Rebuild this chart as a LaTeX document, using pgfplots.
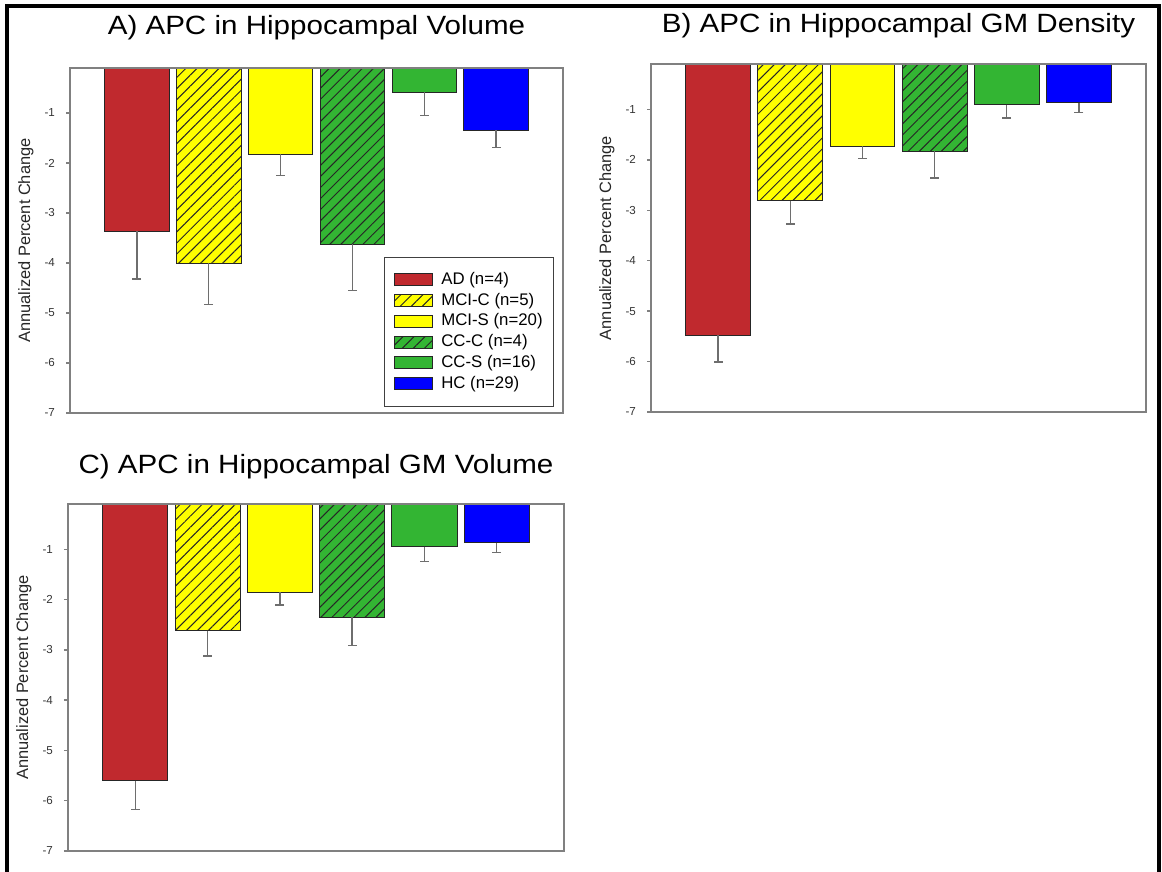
\documentclass[border=0pt]{standalone}
\usepackage{fontspec}
\setmainfont{Liberation Sans}
\newfontfamily\titlefont[FakeStretch=1.12]{Liberation Sans}
\usepackage{pgfplots}
\pgfplotsset{compat=1.18}
\usetikzlibrary{patterns.meta}

\definecolor{cAD}{RGB}{192,41,46}
\definecolor{cYel}{RGB}{255,255,0}
\definecolor{cGrn}{RGB}{51,181,51}
\definecolor{cHC}{RGB}{0,0,255}
\definecolor{axgray}{RGB}{128,128,128}
\definecolor{errgray}{RGB}{110,110,110}

\pgfplotsset{
  apc/.style={
    scale only axis, axis on top,
    xmin=0.07, xmax=6.93, ymin=-7, ymax=-0.1,
    xtick=\empty, ytick={-7,-6,...,-1}, ytick pos=left,
    tick align=outside, major tick length=2pt,
    axis line style={draw=axgray, line width=0.75pt},
    tick style={draw=axgray, line width=0.75pt},
    /pgf/number format/assume math mode=true,
    yticklabel style={font=\fontsize{5.8}{6}\selectfont, text=black!80, xshift=-2pt},
    ylabel={Annualized Percent Change},
    ylabel style={at={(axis description cs:0,0.5)}, anchor=center, yshift=22pt,
      font=\fontsize{8.2}{9}\selectfont, text=black!85},
    title style={font=\titlefont\fontsize{13.2}{15}\selectfont, anchor=base,
      at={(0.5,1)}, inner sep=0pt},
  },
  apcbar/.style={
    ybar, bar width=0.9, bar shift=0pt, draw=black!85, line width=0.45pt,
    legend image code/.code={\draw[##1,/tikz/.cd,line width=0.45pt] (0pt,-3pt) rectangle (19pt,3pt);},
    error bars/y dir=minus, error bars/y explicit,
    error bars/error bar style={draw=errgray, line width=0.7pt},
    error bars/error mark options={draw=errgray, line width=0.7pt, mark size=2.2pt, rotate=90},
  },
  hatch/.style={postaction={pattern={Lines[angle=45,distance=3.9pt,line width=0.5pt]}, pattern color=black!85}},
}

\begin{document}
\begin{tikzpicture}
\useasboundingbox (0,0) rectangle (581pt,436pt);
\draw[line width=2pt] (3.5pt,0) -- (3.5pt,433.2pt) -- (579.5pt,433.2pt) -- (579.5pt,0);

% A) volume
\begin{axis}[apc, at={(35pt,229.5pt)}, anchor=south west, width=246.5pt, height=172.5pt,
    title={A) APC in Hippocampal Volume}, title style={yshift=10.7pt},
    legend style={at={(0.982,0.453)}, anchor=north east, draw=black!75, line width=0.5pt,
      font=\fontsize{8.4}{9}\selectfont, inner xsep=4.5pt, inner ysep=6.5pt,
      row sep=0.8pt, column sep=3.3pt, nodes={inner sep=1pt}},
    legend cell align=left]
  \addplot[fill=cAD, apcbar] coordinates {(1,-3.36) +- (0,0.96)};
  \addlegendentry{AD (n=4)}
  \addplot[fill=cYel, hatch, apcbar] coordinates {(2,-4.01) +- (0,0.82)};
  \addlegendentry{MCI-C (n=5)}
  \addplot[fill=cYel, apcbar] coordinates {(3,-1.83) +- (0,0.42)};
  \addlegendentry{MCI-S (n=20)}
  \addplot[fill=cGrn, hatch, apcbar] coordinates {(4,-3.62) +- (0,0.93)};
  \addlegendentry{CC-C (n=4)}
  \addplot[fill=cGrn, apcbar] coordinates {(5,-0.59) +- (0,0.46)};
  \addlegendentry{CC-S (n=16)}
  \addplot[fill=cHC, apcbar] coordinates {(6,-1.35) +- (0,0.34)};
  \addlegendentry{HC (n=29)}
\end{axis}

% B) GM density
\begin{axis}[apc, at={(325.5pt,230pt)}, anchor=south west, width=247.5pt, height=174pt,
    title={B) APC in Hippocampal GM Density}, title style={yshift=9.7pt}]
  \addplot[fill=cAD, apcbar] coordinates {(1,-5.48) +- (0,0.53)};
  \addplot[fill=cYel, hatch, apcbar] coordinates {(2,-2.81) +- (0,0.46)};
  \addplot[fill=cYel, apcbar] coordinates {(3,-1.73) +- (0,0.24)};
  \addplot[fill=cGrn, hatch, apcbar] coordinates {(4,-1.83) +- (0,0.53)};
  \addplot[fill=cGrn, apcbar] coordinates {(5,-0.91) +- (0,0.26)};
  \addplot[fill=cHC, apcbar] coordinates {(6,-0.87) +- (0,0.19)};
\end{axis}

% C) GM volume
\begin{axis}[apc, at={(34pt,10.5pt)}, anchor=south west, width=248pt, height=173.5pt,
    title={C) APC in Hippocampal GM Volume}, title style={yshift=9.5pt}]
  \addplot[fill=cAD, apcbar] coordinates {(1,-5.60) +- (0,0.58)};
  \addplot[fill=cYel, hatch, apcbar] coordinates {(2,-2.62) +- (0,0.50)};
  \addplot[fill=cYel, apcbar] coordinates {(3,-1.85) +- (0,0.26)};
  \addplot[fill=cGrn, hatch, apcbar] coordinates {(4,-2.35) +- (0,0.56)};
  \addplot[fill=cGrn, apcbar] coordinates {(5,-0.95) +- (0,0.29)};
  \addplot[fill=cHC, apcbar] coordinates {(6,-0.87) +- (0,0.20)};
\end{axis}
\end{tikzpicture}
\end{document}
